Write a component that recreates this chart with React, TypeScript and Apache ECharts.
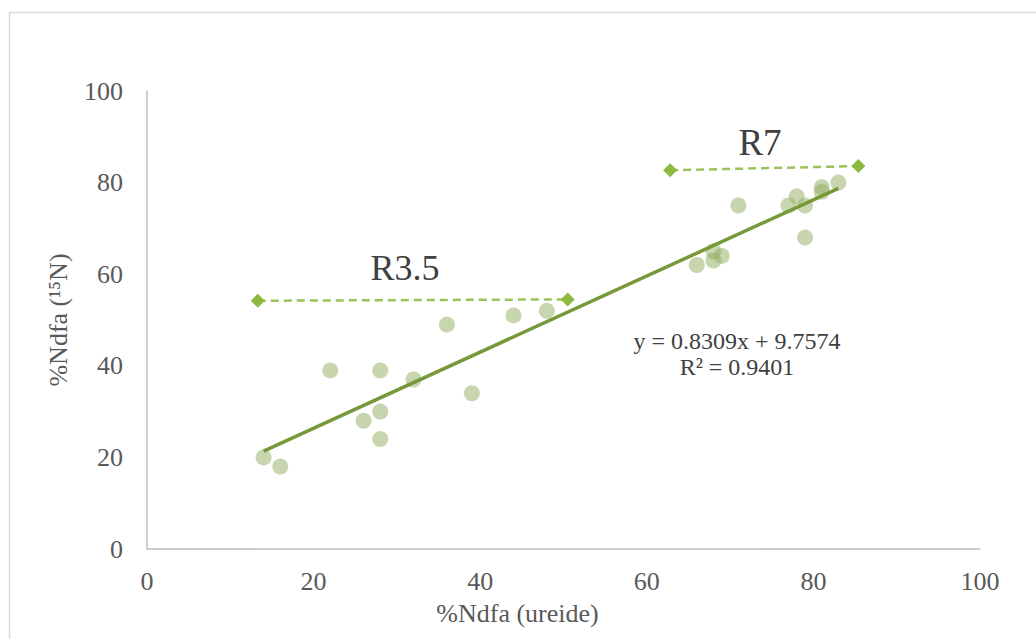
import React, { useEffect, useRef } from "react";
import * as echarts from "echarts";

const ureide: number[] = [14, 16, 22, 26, 28, 28, 28, 32, 36, 39, 44, 48, 66, 68, 68, 69, 71, 77, 78, 79, 79, 81, 81, 83];
const n15: number[] = [20, 18, 39, 28, 39, 30, 24, 37, 49, 34, 51, 52, 62, 63, 65, 64, 75, 75, 77, 75, 68, 79, 78, 80];
const r35Line: [number, number][] = [[13.3, 54.2], [50.5, 54.5]];
const r7Line: [number, number][] = [[62.8, 82.7], [85.4, 83.6]];
const slope = 0.8309;
const intercept = 9.7574;
const trendRange: number[] = [14, 83];

export default function App() {
  const ref = useRef<HTMLDivElement>(null);
  useEffect(() => {
    if (!ref.current) return;
    document.body.style.margin = "0";
    const chart = echarts.init(ref.current, null, { renderer: "svg" });
    const font = "Liberation Serif";
    const points = ureide.map((x, i) => [x, n15[i]]);
    const trend = trendRange.map((x) => [x, slope * x + intercept]);
    const txt = (text: string, x: number, y: number, size: number) => ({
      type: "text",
      x,
      y,
      style: { text, fontFamily: font, fontSize: size, fill: "#404040", align: "center", verticalAlign: "middle" },
    });
    chart.setOption({
      animation: false,
      backgroundColor: "#fff",
      grid: { left: 147, right: 56, top: 91, bottom: 90, containLabel: false },
      xAxis: {
        type: "value",
        min: 0,
        max: 100,
        interval: 20,
        name: "%Ndfa (ureide)",
        nameLocation: "middle",
        nameGap: 51,
        nameTextStyle: { fontFamily: font, fontSize: 26, color: "#595959", padding: [0, 92, 0, 0] },
        axisLine: { show: true, lineStyle: { color: "#bfbfbf", width: 1.5 } },
        axisTick: { show: false },
        splitLine: { show: false },
        axisLabel: { fontFamily: font, fontSize: 26, color: "#595959", margin: 19 },
      },
      yAxis: {
        type: "value",
        min: 0,
        max: 100,
        interval: 20,
        name: "%Ndfa (¹⁵N)",
        nameLocation: "middle",
        nameGap: 76,
        nameTextStyle: { fontFamily: font, fontSize: 26, color: "#595959" },
        axisLine: { show: true, lineStyle: { color: "#bfbfbf", width: 1.5 } },
        axisTick: { show: false },
        splitLine: { show: false },
        axisLabel: { fontFamily: font, fontSize: 26, color: "#595959", margin: 24 },
      },
      graphic: [
        {
          type: "rect",
          shape: { x: 9.5, y: 12.5, width: 1100, height: 700 },
          style: { fill: "none", stroke: "#d9d9d9", lineWidth: 1.5 },
          silent: true,
        },
        txt("R3.5", 405, 268, 36),
        txt("R7", 760, 142, 37),
        txt("y = 0.8309x + 9.7574", 737, 341, 24),
        txt("R² = 0.9401", 737, 367, 24),
      ],
      series: [
        {
          type: "scatter",
          data: points,
          symbol: "circle",
          symbolSize: 16,
          itemStyle: { color: "rgba(140,170,90,0.6)" },
          z: 2,
        },
        {
          type: "line",
          data: trend,
          showSymbol: false,
          symbol: "none",
          lineStyle: { color: "#77993a", width: 3.5 },
          z: 3,
        },
        {
          type: "line",
          data: r35Line,
          symbol: "diamond",
          symbolSize: 14,
          itemStyle: { color: "#8db940" },
          lineStyle: { color: "#9cc25a", width: 2.5, type: [8, 5] },
          z: 4,
        },
        {
          type: "line",
          data: r7Line,
          symbol: "diamond",
          symbolSize: 14,
          itemStyle: { color: "#8db940" },
          lineStyle: { color: "#9cc25a", width: 2.5, type: [8, 5] },
          z: 4,
        },
      ],
    });
    return () => chart.dispose();
  }, []);
  return <div ref={ref} style={{ position: "fixed", left: 0, top: 0, width: 1036, height: 639 }} />;
}
